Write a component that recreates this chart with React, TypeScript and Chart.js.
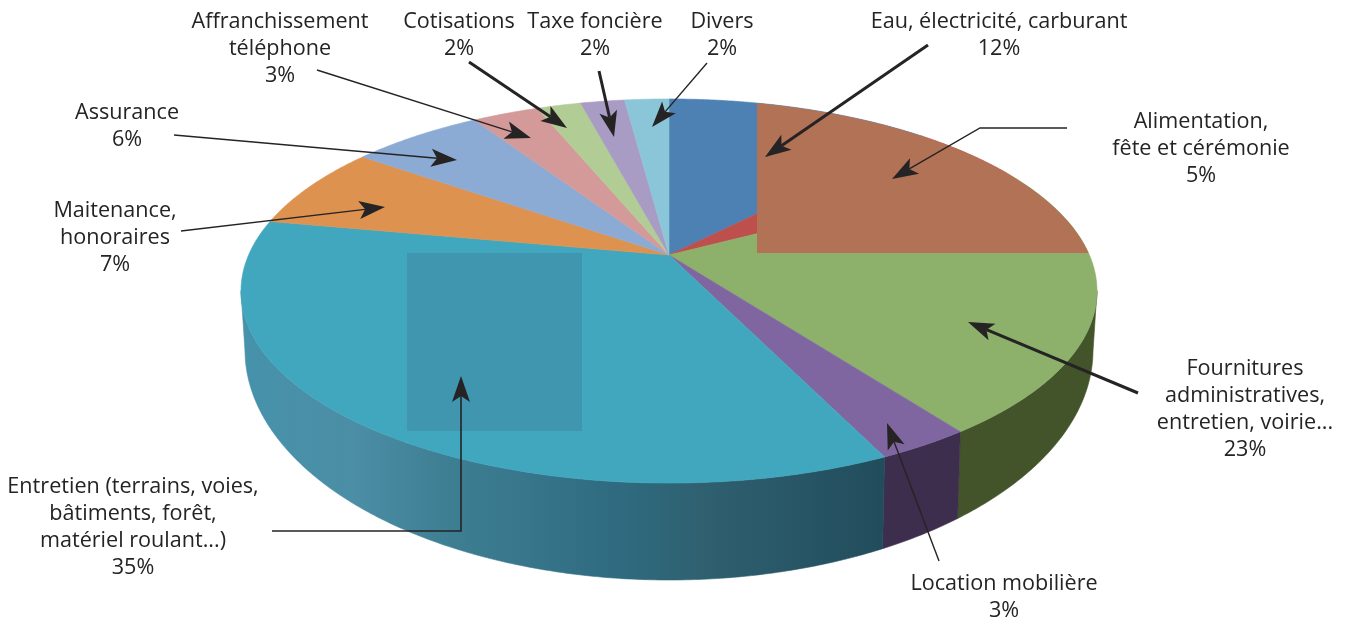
import React, { useEffect, useRef } from "react";
import { Chart, registerables } from "chart.js";

Chart.register(...registerables);

const categories = [
  "Eau, électricité, carburant",
  "Alimentation, fête et cérémonie",
  "Fournitures administratives, entretien, voirie...",
  "Location mobilière",
  "Entretien (terrains, voies, bâtiments, forêt, matériel roulant...)",
  "Maitenance, honoraires",
  "Assurance",
  "Affranchissement téléphone",
  "Cotisations",
  "Taxe foncière",
  "Divers",
];
const shares = [12, 5, 23, 3, 35, 7, 6, 3, 2, 2, 2];
const topColors = ["#4d81b4", "#bd504d", "#8db06b", "#8066a1", "#41a7be", "#de9250", "#8cabd4", "#d39a99", "#b2cc96", "#a89bc4", "#8bc6d8"];
const wallColors = ["#2c4a68", "#6e2e2c", "#43542b", "#3c2e4c", "#2f6c80", "#80542e", "#51637b", "#7a5958", "#677657", "#615a71", "#50737d"];

// Printed labels: [centre x, first baseline, lines]
const labelLayout: [number, number, string[]][] = [
  [280, 28, ["Affranchissement", "téléphone", "3%"]],
  [459, 28, ["Cotisations", "2%"]],
  [595, 28, ["Taxe foncière", "2%"]],
  [722, 28, ["Divers", "2%"]],
  [999, 28, ["Eau, électricité, carburant", "12%"]],
  [1201, 128, ["Alimentation,", "fête et cérémonie", "5%"]],
  [1245, 375, ["Fournitures", "administratives,", "entretien, voirie...", "23%"]],
  [1004, 590, ["Location mobilière", "3%"]],
  [133, 493, ["Entretien (terrains, voies,", "bâtiments, forêt,", "matériel roulant...)", "35%"]],
  [115, 217, ["Maitenance,", "honoraires", "7%"]],
  [127, 119, ["Assurance", "6%"]],
];

// Leader lines: polyline points and stroke width; the last point carries the head.
const arrows: [number, number[][]][] = [
  [1.4, [[174, 135], [457, 160]]],
  [1.4, [[317, 70], [531, 138]]],
  [3, [[469, 62], [567, 128]]],
  [3, [[599, 71], [614, 137]]],
  [1.4, [[707, 63], [652, 127]]],
  [3, [[928, 45], [765, 157]]],
  [1.4, [[1067, 128], [980, 128], [892, 179]]],
  [3, [[1138, 393], [968, 322]]],
  [1.4, [[939, 561], [887, 423]]],
  [1.6, [[272, 531], [461, 531], [461, 376]]],
  [1.4, [[181, 231], [385, 207]]],
];

const FONT = '21.6px "Open Sans"';
const INK = "#262324";
const LINE_H = 27;

// Projection of the pie disc onto the page (tilted view with perspective)
const APEX_X = 669;
const APEX_Y = 255;
const A = 420.4;
const B = 185.3;
const K = 0.1875;
const RX = 428;
const BOTTOM_CY = 350;
const BOTTOM_RY = 230;
const WALL_FROM = (100.7 * Math.PI) / 180;
const WALL_TO = (259.3 * Math.PI) / 180;

const rim = (t: number): [number, number] => {
  const u = Math.sin(t);
  const v = Math.cos(t);
  const w = 1 + K * v;
  return [APEX_X + (A * u) / w, APEX_Y - (B * v) / w];
};
const floorPt = (t: number): [number, number] => {
  const [x] = rim(t);
  const dx = (x - APEX_X) / RX;
  return [APEX_X + dx * 424, BOTTOM_CY + BOTTOM_RY * Math.sqrt(Math.max(0, 1 - dx * dx))];
};
const samples = (a: number, b: number) => {
  const n = Math.max(2, Math.ceil(((b - a) * 180) / Math.PI) * 2);
  return Array.from({ length: n + 1 }, (_, i) => a + ((b - a) * i) / n);
};

const drawArrow = (ctx: CanvasRenderingContext2D, width: number, pts: number[][]) => {
  const [tx, ty] = pts[pts.length - 1];
  const [px, py] = pts[pts.length - 2];
  const ang = Math.atan2(ty - py, tx - px);
  const len = 26;
  const half = 9;
  const notch = 20;
  ctx.strokeStyle = INK;
  ctx.fillStyle = INK;
  ctx.lineWidth = width;
  ctx.beginPath();
  pts.forEach((p, i) => {
    if (i === pts.length - 1) ctx.lineTo(tx - Math.cos(ang) * notch, ty - Math.sin(ang) * notch);
    else if (i === 0) ctx.moveTo(p[0], p[1]);
    else ctx.lineTo(p[0], p[1]);
  });
  ctx.stroke();
  const bx = tx - Math.cos(ang) * len;
  const by = ty - Math.sin(ang) * len;
  const nx = -Math.sin(ang);
  const ny = Math.cos(ang);
  ctx.beginPath();
  ctx.moveTo(tx, ty);
  ctx.lineTo(bx + nx * half, by + ny * half);
  ctx.lineTo(tx - Math.cos(ang) * notch, ty - Math.sin(ang) * notch);
  ctx.lineTo(bx - nx * half, by - ny * half);
  ctx.closePath();
  ctx.fill();
};

const pie3d = {
  id: "pie3d",
  beforeDatasetsDraw(chart: any) {
    const ctx: CanvasRenderingContext2D = chart.ctx;
    const arcs = chart.getDatasetMeta(0).data;
    const bg = chart.data.datasets[0].backgroundColor as string[];
    const slices = arcs.map((arc: any, i: number) => {
      const p = arc.getProps(["startAngle", "endAngle"], true);
      return { a: p.startAngle + Math.PI / 2, b: p.endAngle + Math.PI / 2, i };
    });
    ctx.save();

    // Side wall
    for (const s of slices) {
      const a = Math.max(s.a, WALL_FROM);
      const b = Math.min(s.b, WALL_TO);
      if (b <= a) continue;
      const ts = samples(a, b);
      ctx.beginPath();
      ts.forEach((t, j) => {
        const [x, y] = rim(t);
        if (j === 0) ctx.moveTo(x, y);
        else ctx.lineTo(x, y);
      });
      [...ts].reverse().forEach((t) => {
        const [x, y] = floorPt(t);
        ctx.lineTo(x, y);
      });
      ctx.closePath();
      let fill: string | CanvasGradient = wallColors[s.i];
      if (s.i === 4) {
        const g = ctx.createLinearGradient(245, 0, 885, 0);
        g.addColorStop(0, "#4692ab");
        g.addColorStop(0.17, "#4b8ea5");
        g.addColorStop(0.3, "#3f8095");
        g.addColorStop(0.58, "#2f6b80");
        g.addColorStop(0.72, "#2f6070");
        g.addColorStop(1, "#214c5c");
        fill = g;
      }
      ctx.fillStyle = fill;
      ctx.strokeStyle = fill;
      ctx.lineWidth = 0.6;
      ctx.fill();
      ctx.stroke();
    }

    // Top face
    for (const s of slices) {
      ctx.beginPath();
      ctx.moveTo(APEX_X, APEX_Y);
      samples(s.a, s.b).forEach((t) => {
        const [x, y] = rim(t);
        ctx.lineTo(x, y);
      });
      ctx.closePath();
      ctx.fillStyle = bg[s.i];
      ctx.strokeStyle = bg[s.i];
      ctx.lineWidth = 0.6;
      ctx.fill();
      ctx.stroke();
    }

    // Pasted panels on the top face
    ctx.save();
    ctx.beginPath();
    samples(0, Math.PI * 2).forEach((t, j) => {
      const [x, y] = rim(t);
      if (j === 0) ctx.moveTo(x, y);
      else ctx.lineTo(x, y);
    });
    ctx.closePath();
    ctx.clip();
    ctx.fillStyle = "#b17256";
    ctx.fillRect(757, 90, 345, 163);
    ctx.fillStyle = "#4096ae";
    ctx.fillRect(407, 253, 175, 178);
    ctx.restore();

    // Leader lines and text
    arrows.forEach(([w, pts]) => drawArrow(ctx, w, pts));
    ctx.fillStyle = INK;
    ctx.font = FONT;
    ctx.textAlign = "center";
    ctx.textBaseline = "alphabetic";
    labelLayout.forEach(([cx, y0, lines]) => {
      lines.forEach((line, i) => ctx.fillText(line, cx, y0 + i * LINE_H));
    });
    ctx.restore();
    return false;
  },
};

export default function App() {
  const ref = useRef<HTMLCanvasElement>(null);
  useEffect(() => {
    const chart = new Chart(ref.current as HTMLCanvasElement, {
      type: "pie",
      data: {
        labels: categories,
        datasets: [{ data: shares, backgroundColor: topColors, borderWidth: 0 }],
      },
      options: {
        animation: false,
        responsive: false,
        plugins: { legend: { display: false }, tooltip: { enabled: false }, title: { display: false } },
      },
      plugins: [pie3d],
    } as any);
    return () => chart.destroy();
  }, []);
  return (
    <canvas
      ref={ref}
      width={1347}
      height={618}
      style={{ position: "fixed", left: 0, top: 0, width: 1347, height: 618, background: "#ffffff" }}
    />
  );
}
